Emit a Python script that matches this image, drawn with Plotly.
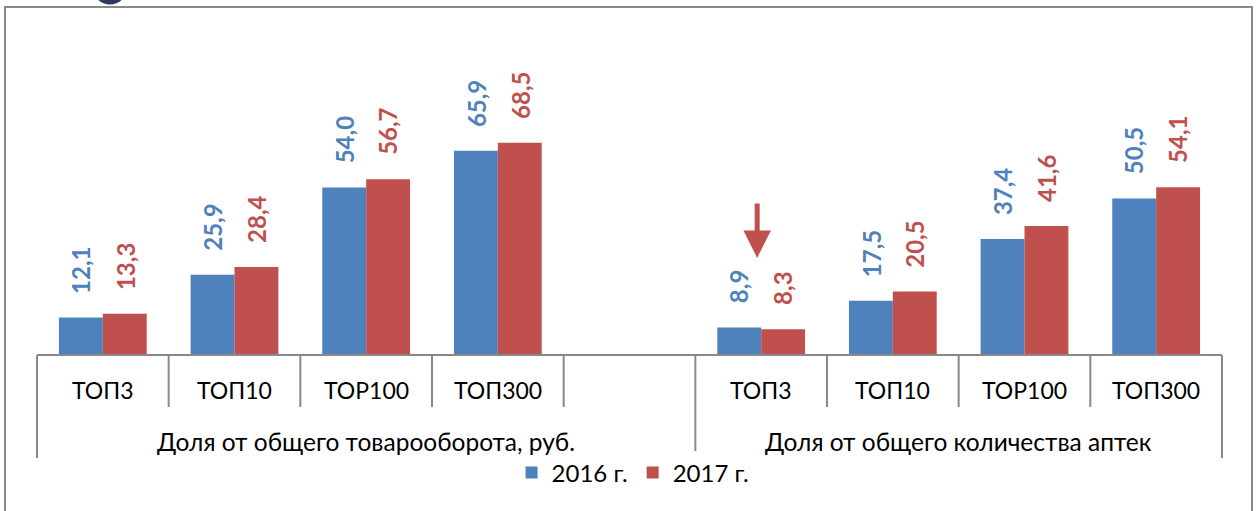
import plotly.graph_objects as go

# ---- data ----
categories = ["ТОП3", "ТОП10", "ТОР100", "ТОП300", "ТОП3", "ТОП10", "ТОР100", "ТОП300"]
slots = [0, 1, 2, 3, 5, 6, 7, 8]          # slot 4 is an empty category
groups = ["Доля от общего товарооборота, руб.", "Доля от общего количества аптек"]
group_centers = [2.0, 6.5]
vals_2016 = [12.1, 25.9, 54.0, 65.9, 8.9, 17.5, 37.4, 50.5]
vals_2017 = [13.3, 28.4, 56.7, 68.5, 8.3, 20.5, 41.6, 54.1]
series_names = ["2016 г.", "2017 г."]

BLUE = "#4F81BD"
RED = "#C0504D"
GRAY = "#898989"
FONT = "Lato"

W, H = 1256, 511
L, R = 37, 34
T, B = 45, 156
plot_h = H - T - B

def px2paper_y(p):
    return (H - B - p) / plot_h

def slot_to_paper(x):
    return (x + 0.5) / 9.0

def fmt(v):
    return f"{v:.1f}".replace(".", ",")

fig = go.Figure()
for name, vals, col in [(series_names[0], vals_2016, BLUE), (series_names[1], vals_2017, RED)]:
    fig.add_trace(go.Bar(x=slots, y=vals, name=name, marker=dict(color=col, line=dict(width=0)),
                         hoverinfo="skip"))

annotations = []
# data labels (rotated)
for vals, col, off in [(vals_2016, BLUE, -1/6), (vals_2017, RED, 1/6)]:
    for s, v in zip(slots, vals):
        annotations.append(dict(x=s + off, y=v, xref="x", yref="y", text=f"<b>{fmt(v)}</b>",
                                showarrow=False, textangle=-90, yanchor="bottom", xanchor="center",
                                yshift=22, font=dict(family=FONT, size=24, color=col)))
# category labels
for s, c in zip(slots, categories):
    annotations.append(dict(x=s, y=px2paper_y(390), xref="x", yref="paper", text=c, showarrow=False,
                            yanchor="middle", font=dict(family=FONT, size=23, color="#000")))
for gx, g in zip(group_centers, groups):
    annotations.append(dict(x=gx, y=px2paper_y(441), xref="x", yref="paper", text=g, showarrow=False,
                            yanchor="middle", font=dict(family=FONT, size=24.5, color="#000")))
# red arrow
annotations.append(dict(x=5, y=px2paper_y(258), xref="x", yref="paper", xshift=-4, text="",
                        showarrow=True, ax=0, ay=-56, arrowhead=2, arrowsize=1.1, arrowwidth=5,
                        arrowcolor=RED))

shapes = []
# baseline
shapes.append(dict(type="line", xref="paper", yref="paper", x0=0, x1=1, y0=0, y1=0,
                   line=dict(color=GRAY, width=2)))
for k in range(10):
    xb = k - 0.5
    long = k in (0, 5, 9)
    shapes.append(dict(type="line", xref="paper", yref="paper", x0=slot_to_paper(xb), x1=slot_to_paper(xb),
                       y0=0, y1=px2paper_y(458 if long else 407), line=dict(color=GRAY, width=2)))
# outer frame
shapes.append(dict(type="rect", xref="paper", yref="paper",
                   x0=(5 - L) / (W - L - R), x1=(1252 - L) / (W - L - R),
                   y0=px2paper_y(520), y1=px2paper_y(7), line=dict(color=GRAY, width=2)))
# logo fragment at top
shapes.append(dict(type="circle", xref="paper", yref="paper",
                   x0=(95 - L) / (W - L - R), x1=(125 - L) / (W - L - R),
                   y0=px2paper_y(2), y1=px2paper_y(-28), line=dict(color="#2E3A5C", width=5)))

fig.update_layout(
    width=W, height=H,
    margin=dict(l=L, r=R, t=T, b=B),
    paper_bgcolor="white", plot_bgcolor="white",
    barmode="group", bargap=1/3, bargroupgap=0,
    xaxis=dict(range=[-0.5, 8.5], showticklabels=False, showgrid=False, zeroline=False, showline=False),
    yaxis=dict(range=[0, 100], showticklabels=False, showgrid=False, zeroline=False, showline=False),
    showlegend=True,
    legend=dict(orientation="h", x=0.503, xanchor="center", y=px2paper_y(473), yanchor="middle",
                font=dict(family=FONT, size=24, color="#000"), itemwidth=30, tracegroupgap=0),
    annotations=annotations, shapes=shapes,
)

fig.write_html("out.html", config={"displayModeBar": False},
               post_script="document.body.style.margin='0';document.body.style.overflow='hidden';")
